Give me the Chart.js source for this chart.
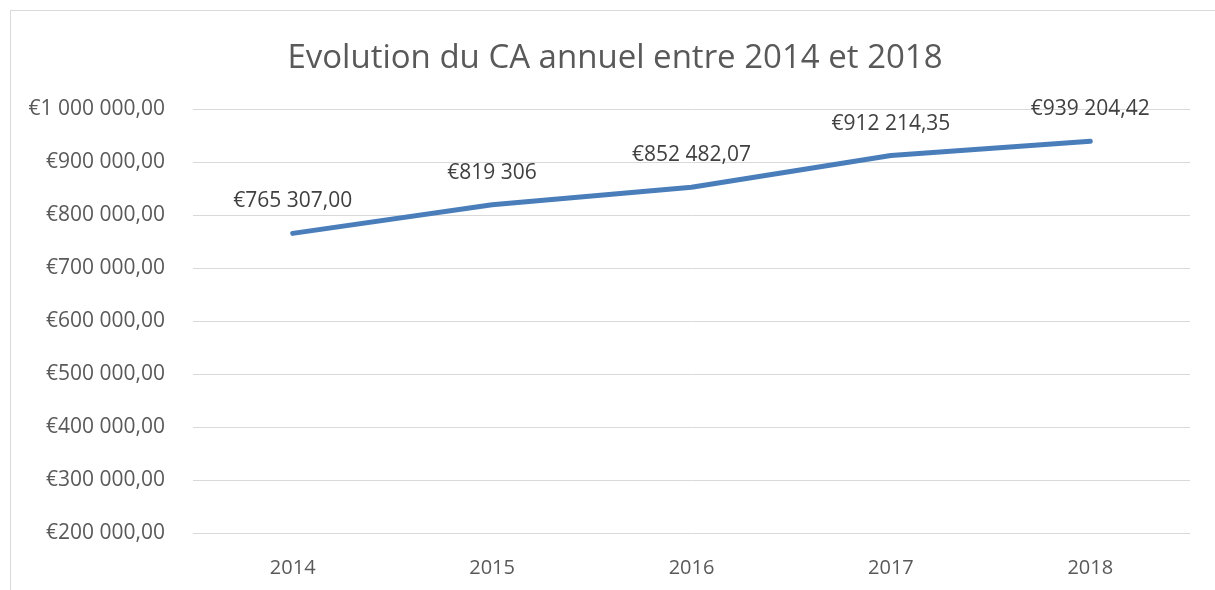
<!DOCTYPE html>
<html>
<head>
<meta charset="utf-8">
<script src="https://cdn.jsdelivr.net/npm/chart.js@4.4.1/dist/chart.umd.min.js"></script>
<style>
  html, body { margin: 0; padding: 0; background: #fff; }
  #wrap { position: relative; width: 1215px; height: 590px; }
</style>
</head>
<body>
<div id="wrap"><canvas id="c" width="1215" height="590"></canvas></div>
<script>
const categories = ['2014', '2015', '2016', '2017', '2018'];
const revenue = [765307.00, 819306, 852482.07, 912214.35, 939204.42];
const pointLabels = ['€765 307,00', '€819 306', '€852 482,07', '€912 214,35', '€939 204,42'];
const yTickValues = [200000, 300000, 400000, 500000, 600000, 700000, 800000, 900000, 1000000];
const yTickLabels = ['€200 000,00', '€300 000,00', '€400 000,00', '€500 000,00', '€600 000,00', '€700 000,00', '€800 000,00', '€900 000,00', '€1 000 000,00'];
const chartTitle = 'Evolution du CA annuel entre 2014 et 2018';

const FONT = "'Open Sans', 'Liberation Sans', sans-serif";

const frame = {
  id: 'frame',
  beforeDraw(chart) {
    const ctx = chart.ctx;
    ctx.save();
    ctx.fillStyle = '#ffffff';
    ctx.fillRect(0, 0, chart.width, chart.height);
    ctx.strokeStyle = '#d9d9d9';
    ctx.lineWidth = 1;
    ctx.strokeRect(10.5, 10.5, chart.width + 10, chart.height + 10);
    ctx.restore();
  },
  afterDraw(chart) {
    const ctx = chart.ctx;
    ctx.save();
    ctx.font = "33px " + FONT;
    ctx.fillStyle = '#595959';
    ctx.textAlign = 'center';
    ctx.textBaseline = 'middle';
    ctx.fillText(chartTitle, 615, 58.5);
    ctx.restore();
  }
};

const valueLabels = {
  id: 'valueLabels',
  afterDatasetsDraw(chart) {
    const ctx = chart.ctx;
    const meta = chart.getDatasetMeta(0);
    ctx.save();
    ctx.font = "21px " + FONT;
    ctx.fillStyle = '#404040';
    ctx.textAlign = 'center';
    ctx.textBaseline = 'middle';
    meta.data.forEach((pt, i) => {
      ctx.fillText(pointLabels[i], pt.x, pt.y - 32);
    });
    ctx.restore();
  }
};

new Chart(document.getElementById('c'), {
  type: 'line',
  data: {
    labels: categories,
    datasets: [{
      data: revenue,
      borderColor: '#4a7ebb',
      borderWidth: 5,
      borderCapStyle: 'round',
      borderJoinStyle: 'round',
      pointRadius: 0,
      pointHoverRadius: 0,
      fill: false,
      tension: 0
    }]
  },
  options: {
    responsive: false,
    animation: false,
    devicePixelRatio: 1,
    layout: { padding: { left: 0, right: 25, top: 109, bottom: 0 } },
    plugins: {
      legend: { display: false },
      tooltip: { enabled: false },
      title: { display: false }
    },
    scales: {
      x: {
        type: 'category',
        offset: true,
        grid: { display: false, drawTicks: false },
        border: { display: false },
        ticks: { color: '#595959', font: { family: FONT, size: 20 }, padding: 23 },
        afterFit(scale) { scale.height = 57; }
      },
      y: {
        min: 200000,
        max: 1000000,
        afterBuildTicks(scale) { scale.ticks = yTickValues.map(v => ({ value: v })); },
        grid: { color: '#d9d9d9', lineWidth: 1, drawTicks: false },
        border: { display: false },
        ticks: {
          color: '#595959',
          font: { family: FONT, size: 21 },
          padding: 28,
          callback(value) { const i = yTickValues.indexOf(value); return i >= 0 ? yTickLabels[i] : ''; }
        },
        afterFit(scale) { scale.width = 193; }
      }
    }
  },
  plugins: [frame, valueLabels]
});
</script>
</body>
</html>
